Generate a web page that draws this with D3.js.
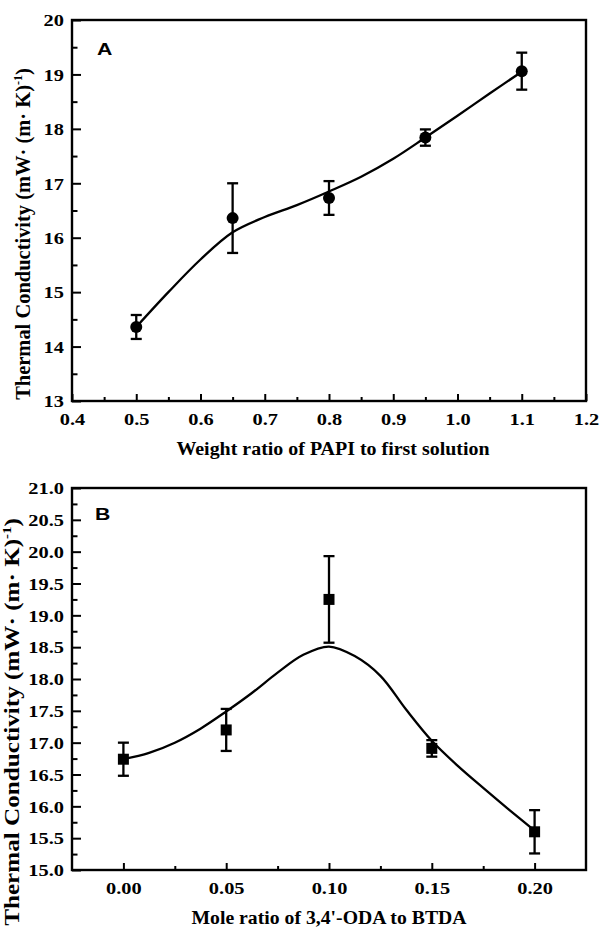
<!DOCTYPE html>
<html>
<head>
<meta charset="utf-8">
<script src="https://cdn.jsdelivr.net/npm/d3@7"></script>
<style>
  body { margin: 0; background: #fff; }
  svg { display: block; }
  svg text { font-family: "Liberation Serif", "Times New Roman", Tinos, serif !important; font-weight: bold; fill: #000; }
  svg text.letter { font-family: "Liberation Sans", Arial, sans-serif !important; }
</style>
</head>
<body>
<svg width="599" height="930"></svg>
<script>
// panel A data
const ratioA = [0.5, 0.65, 0.8, 0.95, 1.1];
const condA = [14.36, 16.36, 16.73, 17.84, 19.06];
const errA = [0.22, 0.64, 0.31, 0.15, 0.34];
const fitXA = [0.5, 0.55, 0.6, 0.65, 0.7, 0.75, 0.8, 0.85, 0.9, 0.95, 1.0, 1.05, 1.1];
const fitYA = [14.36, 15.0, 15.6, 16.1, 16.38, 16.6, 16.85, 17.12, 17.45, 17.84, 18.24, 18.65, 19.05];
const xTicksA = [0.4, 0.5, 0.6, 0.7, 0.8, 0.9, 1.0, 1.1, 1.2];
const yTicksA = [13, 14, 15, 16, 17, 18, 19, 20];

// panel B data
const ratioB = [0.0, 0.05, 0.1, 0.15, 0.2];
const condB = [16.74, 17.2, 19.25, 16.91, 15.6];
const errB = [0.26, 0.33, 0.68, 0.13, 0.34];
const fitXB = [0.0, 0.0125, 0.025, 0.0375, 0.05, 0.0625, 0.075, 0.0875, 0.1,
               0.1125, 0.125, 0.1375, 0.15, 0.1625, 0.175, 0.1875, 0.2];
const fitYB = [16.74, 16.84, 17.0, 17.22, 17.49, 17.78, 18.1, 18.38, 18.51,
               18.36, 18.05, 17.52, 17.03, 16.64, 16.29, 15.95, 15.62];
const xTicksB = [0.0, 0.05, 0.1, 0.15, 0.2];
const yTicksB = [15.0, 15.5, 16.0, 16.5, 17.0, 17.5, 18.0, 18.5, 19.0, 19.5, 20.0, 20.5, 21.0];

const svg = d3.select("svg");
const stretch = 1.2; // the original figure is a little wider than tall

function panel(o) {
  const x = d3.scaleLinear().domain(o.xDomain).range([72, 586]);
  const y = d3.scaleLinear().domain(o.yDomain).range([o.bottom, o.top]);
  const g = svg.append("g");

  // minor ticks
  g.append("g").attr("transform", `translate(0,${o.bottom})`)
    .call(d3.axisBottom(x).tickValues(o.xMinor).tickSize(-4).tickFormat(""))
    .call(a => a.select(".domain").remove());
  g.append("g").attr("transform", "translate(72,0)")
    .call(d3.axisLeft(y).tickValues(o.yMinor).tickSize(-5.5).tickFormat(""))
    .call(a => a.select(".domain").remove());

  // major ticks + labels
  const xa = g.append("g").attr("transform", `translate(0,${o.bottom})`)
    .call(d3.axisBottom(x).tickValues(o.xTicks).tickSize(-7).tickFormat(d3.format(o.xFmt)));
  xa.select(".domain").remove();
  xa.selectAll("text").attr("y", 12).attr("dy", "0.7em")
    .attr("transform", `scale(${stretch},1)`).attr("x", 0)
    .style("font-size", "17px");

  const ya = g.append("g").attr("transform", "translate(72,0)")
    .call(d3.axisLeft(y).tickValues(o.yTicks).tickSize(-9).tickFormat(d3.format(o.yFmt)));
  ya.select(".domain").remove();
  ya.selectAll("text").attr("x", -8 / stretch).attr("dy", "0.34em")
    .attr("transform", `scale(${stretch},1)`)
    .style("font-size", "17px");

  g.selectAll(".tick line").attr("stroke", "#000").attr("stroke-width", 2);

  // frame
  g.append("rect")
    .attr("x", 72).attr("y", o.top)
    .attr("width", 514).attr("height", o.bottom - o.top)
    .attr("fill", "none").attr("stroke", "#000").attr("stroke-width", 2.4);

  // fitted curve
  const line = d3.line().x(d => x(d[0])).y(d => y(d[1])).curve(d3.curveCatmullRom.alpha(0.5));
  g.append("path")
    .datum(o.fitX.map((v, i) => [v, o.fitY[i]]))
    .attr("d", line)
    .attr("fill", "none").attr("stroke", "#000").attr("stroke-width", 2.3);

  // error bars
  const pts = o.px.map((v, i) => ({ x: v, y: o.py[i], e: o.pe[i] }));
  const eb = g.selectAll(".eb").data(pts).enter().append("g").attr("class", "eb")
    .attr("stroke", "#000").attr("stroke-width", 2.3);
  eb.append("line").attr("x1", d => x(d.x)).attr("x2", d => x(d.x))
    .attr("y1", d => y(d.y - d.e)).attr("y2", d => y(d.y + d.e));
  eb.append("line").attr("x1", d => x(d.x) - 5.5).attr("x2", d => x(d.x) + 5.5)
    .attr("y1", d => y(d.y + d.e)).attr("y2", d => y(d.y + d.e));
  eb.append("line").attr("x1", d => x(d.x) - 5.5).attr("x2", d => x(d.x) + 5.5)
    .attr("y1", d => y(d.y - d.e)).attr("y2", d => y(d.y - d.e));

  // markers
  if (o.marker === "circle") {
    g.selectAll(".pt").data(pts).enter().append("circle")
      .attr("cx", d => x(d.x)).attr("cy", d => y(d.y)).attr("r", 6).attr("fill", "#000");
  } else {
    g.selectAll(".pt").data(pts).enter().append("rect")
      .attr("x", d => x(d.x) - 5.5).attr("y", d => y(d.y) - 5.5)
      .attr("width", 11).attr("height", 11).attr("fill", "#000");
  }

  // panel letter
  g.append("text").attr("class", "letter")
    .attr("transform", `translate(${o.letterX},${o.letterY}) scale(1.25,1)`)
    .style("font-size", "17px")
    .text(o.letter);

  // x title
  const xt = g.append("text").attr("text-anchor", "middle").style("font-size", "17px").text(o.xTitle);
  const xw = xt.node().getBBox().width;
  xt.attr("transform", `translate(${o.xTitleX},${o.xTitleY}) scale(${o.xTitleLen / xw},1.1)`);

  // y title
  const yt = g.append("text").attr("text-anchor", "middle").style("font-size", "17px");
  yt.append("tspan").text("Thermal Conductivity (mW\u00b7  (m\u00b7  K)");
  yt.append("tspan").attr("dy", -7).style("font-size", "10px").text("-1");
  yt.append("tspan").attr("dy", 7).text(")");
  const yw = yt.node().getBBox().width;
  yt.attr("transform", `translate(${o.yTitleX},${o.yTitleY}) rotate(-90) scale(${o.yTitleLen / yw},${stretch})`);
}

panel({
  xDomain: [0.4, 1.2], yDomain: [13, 20], top: 20, bottom: 401,
  xTicks: xTicksA, yTicks: yTicksA, xFmt: ".1f", yFmt: "d",
  xMinor: [0.45, 0.55, 0.65, 0.75, 0.85, 0.95, 1.05, 1.15],
  yMinor: [13.5, 14.5, 15.5, 16.5, 17.5, 18.5, 19.5],
  fitX: fitXA, fitY: fitYA, px: ratioA, py: condA, pe: errA, marker: "circle",
  letter: "A", letterX: 97, letterY: 55,
  xTitle: "Weight ratio of PAPI to first solution", xTitleX: 333, xTitleY: 455, xTitleLen: 314,
  yTitleX: 30, yTitleY: 234, yTitleLen: 332
});

panel({
  xDomain: [-0.025, 0.225], yDomain: [15, 21], top: 488, bottom: 870,
  xTicks: xTicksB, yTicks: yTicksB, xFmt: ".2f", yFmt: ".1f",
  xMinor: [0.025, 0.075, 0.125, 0.175],
  yMinor: [15.25, 15.75, 16.25, 16.75, 17.25, 17.75, 18.25, 18.75, 19.25, 19.75, 20.25, 20.75],
  fitX: fitXB, fitY: fitYB, px: ratioB, py: condB, pe: errB, marker: "square",
  letter: "B", letterX: 95, letterY: 520,
  xTitle: "Mole ratio of 3,4'-ODA to BTDA", xTitleX: 329, xTitleY: 924, xTitleLen: 276,
  yTitleX: 19, yTitleY: 722, yTitleLen: 408
});
</script>
</body>
</html>
